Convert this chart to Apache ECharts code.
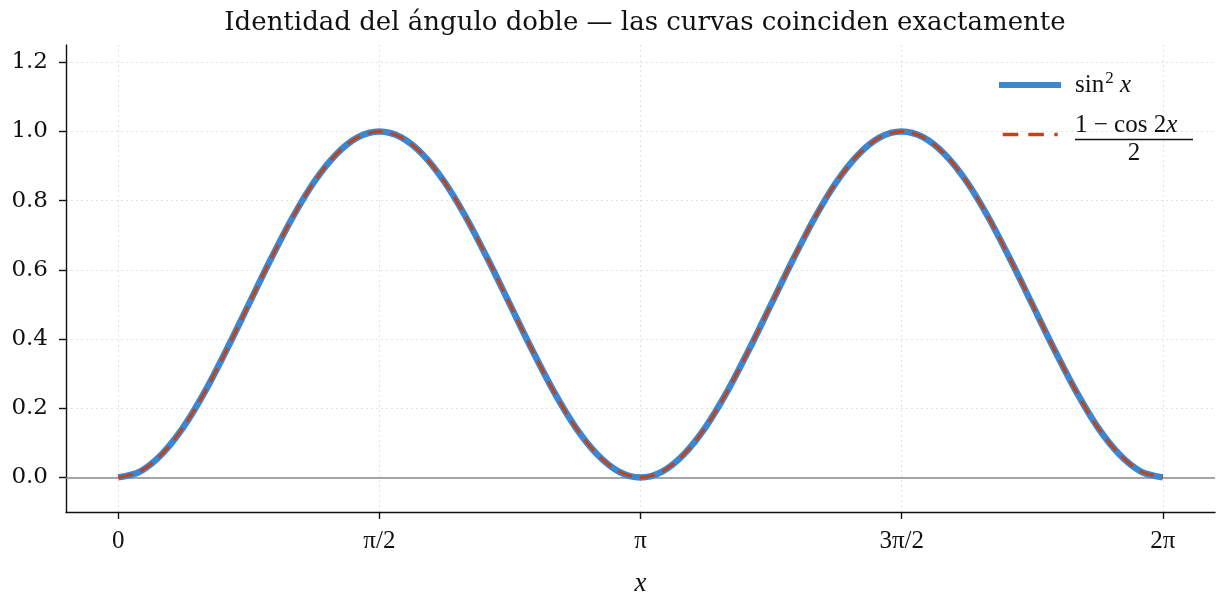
<!DOCTYPE html>
<html>
<head>
<meta charset="utf-8">
<script src="https://cdn.jsdelivr.net/npm/echarts@6/dist/echarts.min.js"></script>
<style>
html,body{margin:0;padding:0;background:#fff;}
#main{width:1224px;height:605px;}
</style>
</head>
<body>
<div id="main"></div>
<script>
// sample positions (radians) read along the x axis
const xValues = [0, 0.131, 0.262, 0.393, 0.524, 0.654, 0.785, 0.916, 1.047, 1.178, 1.309, 1.440, 1.571,
  1.702, 1.833, 1.963, 2.094, 2.225, 2.356, 2.487, 2.618, 2.749, 2.880, 3.011, 3.142,
  3.272, 3.403, 3.534, 3.665, 3.796, 3.927, 4.058, 4.189, 4.320, 4.451, 4.581, 4.712,
  4.843, 4.974, 5.105, 5.236, 5.367, 5.498, 5.629, 5.760, 5.890, 6.021, 6.152, 6.283];
// sin^2 x
const sinSq = [0, 0.017, 0.067, 0.146, 0.25, 0.371, 0.5, 0.629, 0.75, 0.854, 0.933, 0.983, 1,
  0.983, 0.933, 0.854, 0.75, 0.629, 0.5, 0.371, 0.25, 0.146, 0.067, 0.017, 0,
  0.017, 0.067, 0.146, 0.25, 0.371, 0.5, 0.629, 0.75, 0.854, 0.933, 0.983, 1,
  0.983, 0.933, 0.854, 0.75, 0.629, 0.5, 0.371, 0.25, 0.146, 0.067, 0.017, 0];
// (1 - cos 2x) / 2
const halfOneMinusCos2x = [0, 0.017, 0.067, 0.146, 0.25, 0.371, 0.5, 0.629, 0.75, 0.854, 0.933, 0.983, 1,
  0.983, 0.933, 0.854, 0.75, 0.629, 0.5, 0.371, 0.25, 0.146, 0.067, 0.017, 0,
  0.017, 0.067, 0.146, 0.25, 0.371, 0.5, 0.629, 0.75, 0.854, 0.933, 0.983, 1,
  0.983, 0.933, 0.854, 0.75, 0.629, 0.5, 0.371, 0.25, 0.146, 0.067, 0.017, 0];
const xTickValues = [0, 1.5707963, 3.1415927, 4.712389, 6.2831853];
const xTickLabels = ['0', 'π/2', 'π', '3π/2', '2π'];
const yTickValues = [0, 0.2, 0.4, 0.6, 0.8, 1.0, 1.2];

const titleText = 'Identidad del ángulo doble — las curvas coinciden exactamente';
const nameA = 'sin2x';
const nameB = 'halfOneMinusCos';

const blue = '#3b87d4';
const red = '#c0441a';
const serif = '"DejaVu Serif", serif';
const math = '"Liberation Serif", "DejaVu Serif", serif';

const chart = echarts.init(document.getElementById('main'));
const pair = (xs, ys) => xs.map((x, i) => [x, ys[i]]);

const dashIcon = 'path://M0,0h0.01v0.01h-0.01z M3.7,1.25h15.6v3.5h-15.6z M29.3,1.25h15.6v3.5h-15.6z M55.3,1.25h3.4v3.5h-3.4z M62,6h-0.01v-0.01h0.01z';

chart.setOption({
  animation: false,
  backgroundColor: '#fff',
  title: {
    text: titleText, left: 640, textAlign: 'center', top: 5,
    textStyle: { fontFamily: serif, fontWeight: 'normal', fontSize: 26, color: '#111' }
  },
  grid: { left: 66, right: 9, top: 45, bottom: 93, containLabel: false, outerBoundsMode: 'none' },
  legend: [
    {
      orient: 'vertical', left: 994, top: 65, itemWidth: 62, itemHeight: 6, itemGap: 0,
      data: [{ name: nameA, icon: 'rect', itemStyle: { color: blue, borderWidth: 0 } }],
      formatter: () => '{t|sin}{s|2}{t| }{i|x}',
      textStyle: {
        fontFamily: math, fontSize: 25, color: '#111', padding: [0, 0, 0, 9], lineHeight: 30,
        rich: {
          t: { fontFamily: math, fontSize: 25, color: '#111', lineHeight: 30 },
          i: { fontFamily: math, fontSize: 25, fontStyle: 'italic', color: '#111', lineHeight: 30 },
          s: { fontFamily: math, fontSize: 17, color: '#111', lineHeight: 30, padding: [0, 0, 12, 1] }
        }
      }
    },
    {
      orient: 'vertical', left: 994, top: 108, itemWidth: 62, itemHeight: 6, itemGap: 0,
      data: [{ name: nameB, icon: dashIcon, itemStyle: { color: red, borderWidth: 0 } }],
      formatter: () => '{t|1 − cos 2}{i|x}\n{bar| }\n{d|2}',
      textStyle: {
        fontFamily: math, fontSize: 25, color: '#111', padding: [10, 0, 0, 9],
        rich: {
          t: { fontFamily: math, fontSize: 25, color: '#111', lineHeight: 26 },
          i: { fontFamily: math, fontSize: 25, fontStyle: 'italic', color: '#111', lineHeight: 26 },
          bar: { width: 118, height: 1.6, lineHeight: 2, backgroundColor: '#111' },
          d: { fontFamily: math, fontSize: 25, color: '#111', align: 'center', lineHeight: 26 }
        }
      }
    }
  ],
  xAxis: {
    type: 'value', min: -0.314, max: 6.597,
    name: 'x', nameLocation: 'middle', nameGap: 58,
    nameTextStyle: { fontFamily: math, fontStyle: 'italic', fontSize: 27, color: '#111' },
    axisLine: { show: true, onZero: false, lineStyle: { color: '#111', width: 1.4 } },
    axisTick: { show: true, inside: false, length: 7, lineStyle: { color: '#111', width: 1.4 }, customValues: xTickValues },
    axisLabel: {
      customValues: xTickValues, margin: 17, fontFamily: math, fontSize: 25, color: '#111',
      formatter: function (v) {
        let best = 0;
        xTickValues.forEach((t, i) => { if (Math.abs(t - v) < Math.abs(xTickValues[best] - v)) best = i; });
        return xTickLabels[best];
      }
    },
    splitLine: { show: true, lineStyle: { color: '#e3e3e3', type: [2, 3], width: 1 } }
  },
  yAxis: {
    type: 'value', min: -0.1, max: 1.25,
    axisLine: { show: true, onZero: false, lineStyle: { color: '#111', width: 1.4 } },
    axisTick: { show: true, inside: false, length: 7, lineStyle: { color: '#111', width: 1.4 }, customValues: yTickValues },
    axisLabel: {
      customValues: yTickValues, margin: 18, fontFamily: serif, fontSize: 23, color: '#111',
      formatter: v => v.toFixed(1)
    },
    splitLine: { show: true, lineStyle: { color: '#e3e3e3', type: [2, 3], width: 1 } }
  },
  series: [
    {
      name: nameA, type: 'line', data: pair(xValues, sinSq), smooth: 0.3, symbol: 'none',
      lineStyle: { color: blue, width: 6.5 }, itemStyle: { color: blue }, z: 2,
      markLine: {
        silent: true, symbol: 'none', label: { show: false },
        lineStyle: { color: '#888', width: 1.5, type: 'solid' },
        data: [{ yAxis: 0 }], z: 1
      }
    },
    {
      name: nameB, type: 'line', data: pair(xValues, halfOneMinusCos2x), smooth: 0.3, symbol: 'none',
      lineStyle: { color: red, width: 3, type: [15, 8] }, itemStyle: { color: red }, z: 3
    }
  ]
});
</script>
</body>
</html>
